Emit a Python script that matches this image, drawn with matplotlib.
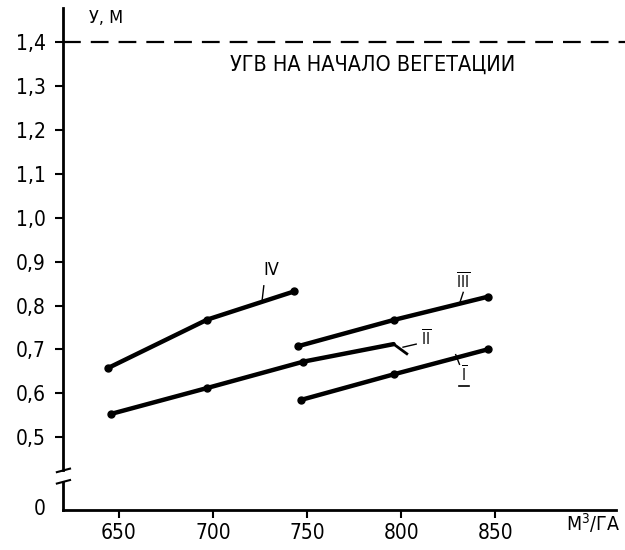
import numpy as np
import matplotlib.pyplot as plt

# water volume, m3/ha and groundwater depth, m
x_I = [747, 796, 846]
y_I = [0.585, 0.643, 0.700]
x_II = [646, 697, 748, 796, 803]
y_II = [0.553, 0.612, 0.672, 0.712, 0.690]
x_III = [745, 796, 846]
y_III = [0.707, 0.767, 0.820]
x_IV = [644, 697, 743]
y_IV = [0.657, 0.768, 0.832]
ugv_level = 1.4

yticks = [0.5, 0.6, 0.7, 0.8, 0.9, 1.0, 1.1, 1.2, 1.3, 1.4]
xticks = [650, 700, 750, 800, 850]
zero_pos = 0.34  # where "0" sits below the axis break

plt.rcParams['font.family'] = ['DejaVu Sans']
plt.rcParams['font.stretch'] = 'condensed'

fig = plt.figure(figsize=(6.25, 5.5), dpi=100)
ax = fig.add_axes([0.100, 0.073, 0.885, 0.912])
ax.set_xlim(620, 914)
ax.set_ylim(0.334, 1.478)

lw = 3.2
for xs, ys in [(x_I, y_I), (x_III, y_III), (x_IV, y_IV)]:
    ax.plot(xs, ys, color='black', lw=lw, solid_capstyle='round')
    ax.plot(xs, ys, 'o', color='black', ms=5)
ax.plot(x_II[:4], y_II[:4], color='black', lw=lw, solid_capstyle='round')
ax.plot(x_II[:3], y_II[:3], 'o', color='black', ms=5)
ax.plot(x_II[3:], y_II[3:], color='black', lw=2)

ax.axhline(ugv_level, xmax=1.03, color='black', lw=1.6, dashes=(8, 4.5), clip_on=False)
ax.text(785, 1.350, 'УГВ НА НАЧАЛО ВЕГЕТАЦИИ', ha='center', va='center',
        fontsize=15.5)

# curve labels with small leaders
ax.text(731, 0.88, 'IV', ha='center', va='center', fontsize=13)
ax.plot([727, 726], [0.845, 0.808], color='black', lw=1)
ax.text(833, 0.855, r'$\overline{\mathrm{III}}$', ha='center', va='center', fontsize=11)
ax.plot([833, 831], [0.830, 0.804], color='black', lw=1)
ax.text(813, 0.725, r'$\overline{\mathrm{II}}$', ha='center', va='center', fontsize=11)
ax.plot([801, 808], [0.705, 0.712], color='black', lw=1)
ax.text(833.5, 0.642, r'$\overline{\mathrm{I}}$', ha='center', va='center', fontsize=11)
ax.plot([831, 836], [0.616, 0.616], color='black', lw=1.2)
ax.plot([829, 831], [0.688, 0.666], color='black', lw=1)

# axes and broken y spine
for s in ['top', 'right', 'left']:
    ax.spines[s].set_visible(False)
ax.spines['bottom'].set_linewidth(2)
ax.plot([620, 620], [0.425, 1.478], color='black', lw=2, clip_on=False)
ax.plot([620, 620], [0.334, 0.397], color='black', lw=2, clip_on=False)
ax.plot([617, 624], [0.420, 0.428], color='black', lw=1.5, clip_on=False)
ax.plot([617, 624], [0.394, 0.402], color='black', lw=1.5, clip_on=False)

ax.set_yticks(yticks + [zero_pos])
ax.set_yticklabels([f'{v:.1f}'.replace('.', ',') for v in yticks] + ['0'])
ax.set_xticks(xticks)
ax.set_xticklabels([str(v) for v in xticks])
ax.tick_params(axis='both', labelsize=15, width=1.5, length=6)
ax.tick_params(axis='y', direction='out', pad=6)
ax.yaxis.get_major_ticks()[-1].tick1line.set_visible(False)

ax.text(634, 1.455, 'У, М', ha='left', va='center', fontsize=13)
ax.text(902, 0.305, 'М$^3$/ГА', ha='center', va='center', fontsize=14,
        clip_on=False)

fig.savefig('out.png', dpi=100)
